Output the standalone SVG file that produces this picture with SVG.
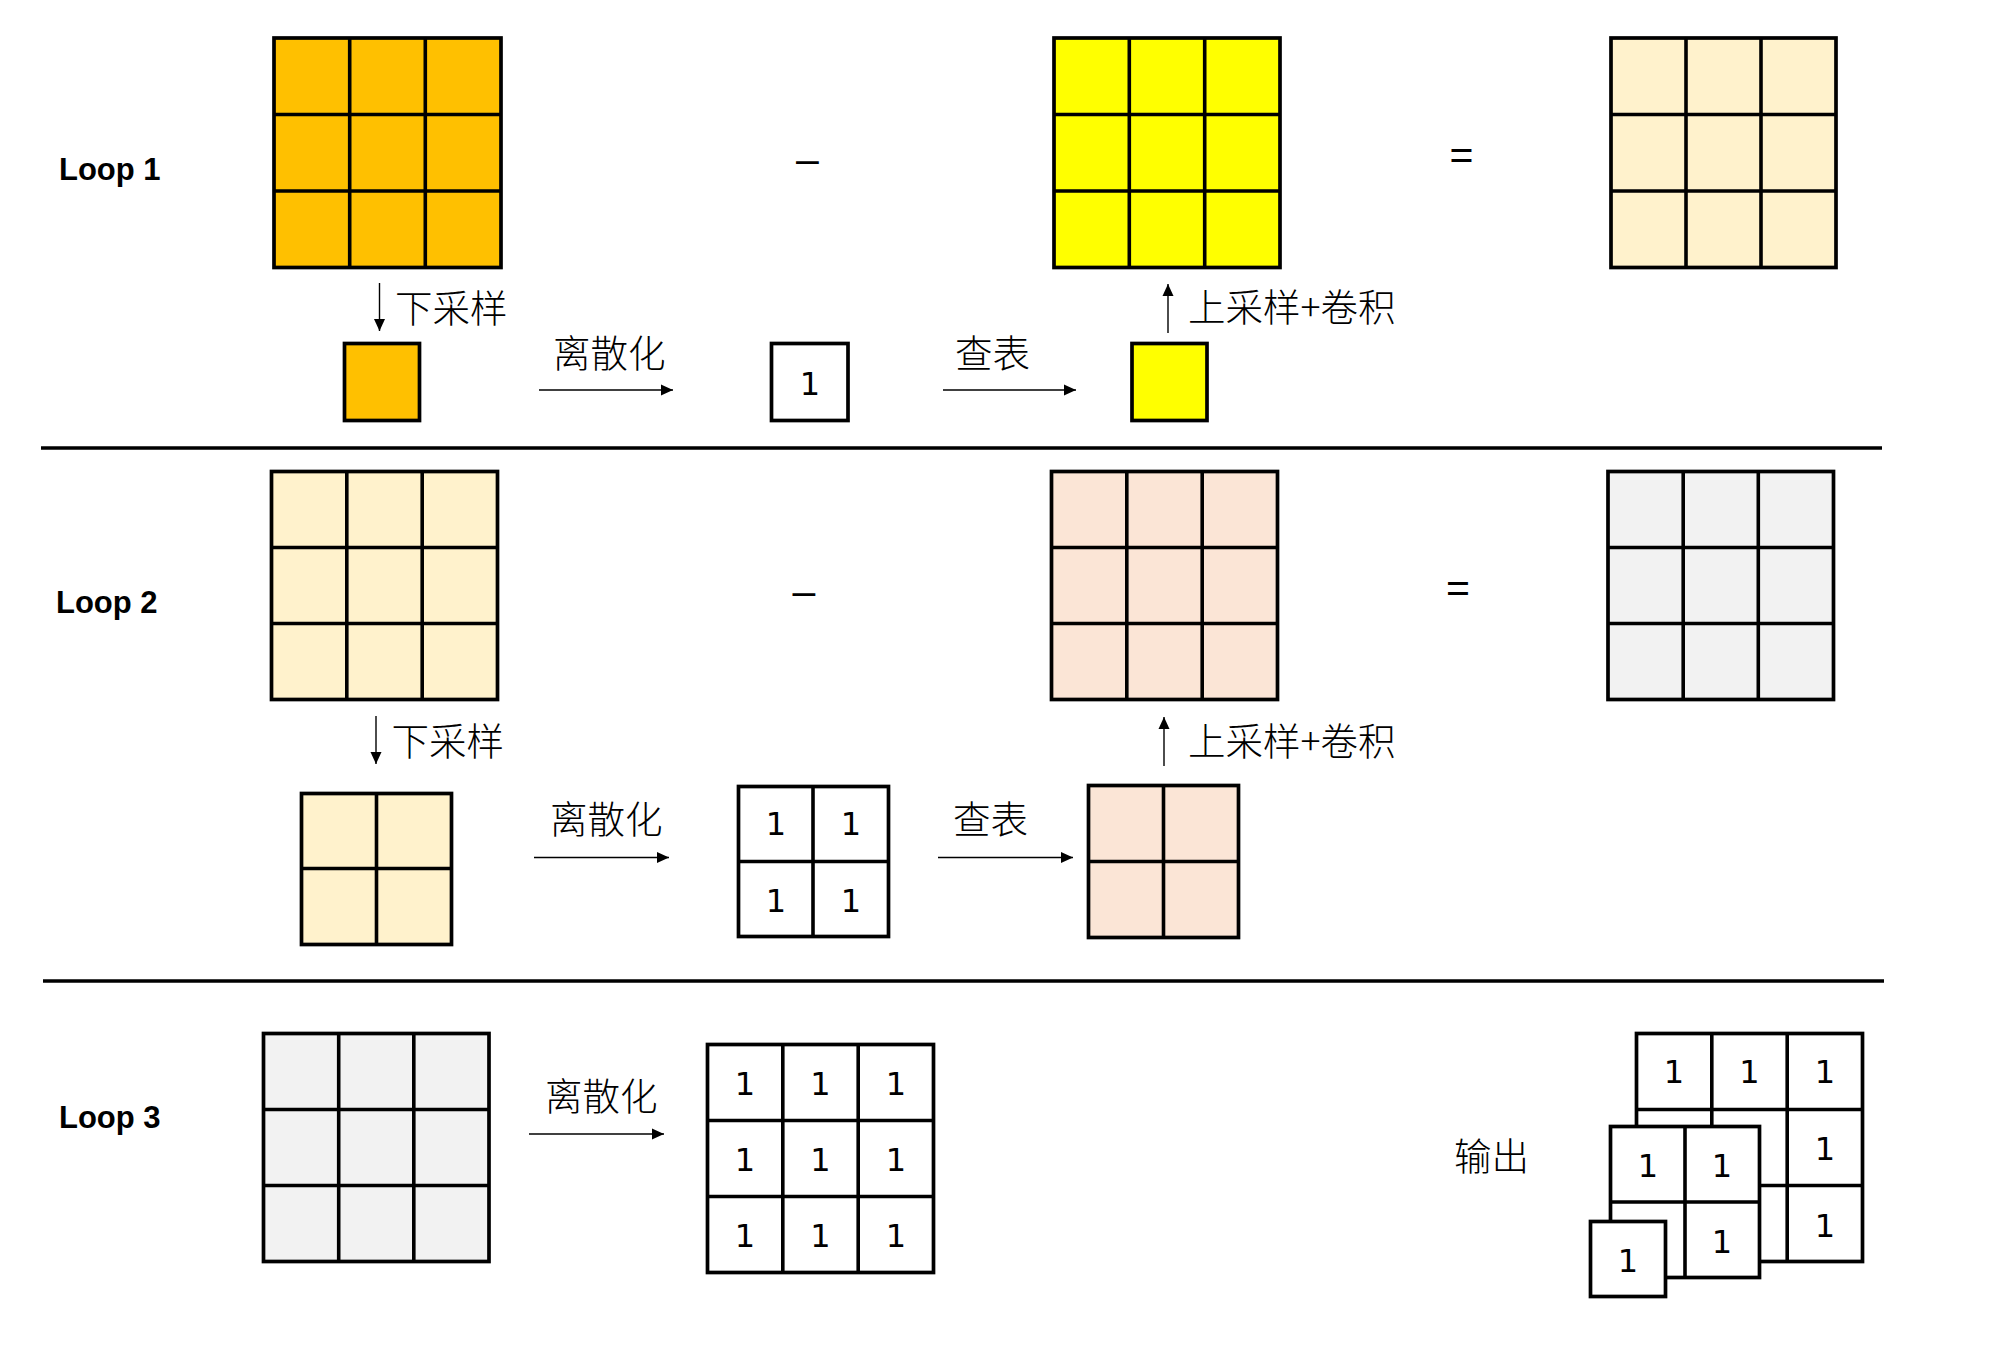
<svg xmlns="http://www.w3.org/2000/svg" width="2003" height="1353" viewBox="0 0 2003 1353">
<style>
.g{stroke:#000;stroke-width:3.6;fill:none}
.bx{stroke:#000;stroke-width:3.7}
.or{fill:#FFC000}.ye{fill:#FFFF00}.cr{fill:#FFF2CC}.pe{fill:#FBE5D6}.gr{fill:#F2F2F2}.wh{fill:#FFFFFF}
.loop{font-family:"Liberation Sans",Arial,sans-serif;font-weight:bold;font-size:31px;fill:#000}
.cn{font-family:"Noto Sans CJK SC","Liberation Sans",sans-serif;font-weight:300;font-size:37.5px;fill:#000}
.num{font-family:"DejaVu Sans",sans-serif;font-size:32px;fill:#000;text-anchor:middle}
.op{font-family:"Liberation Sans",Arial,sans-serif;font-size:41px;fill:#000;text-anchor:middle}
.ar{stroke:#000;stroke-width:1.4;fill:none;marker-end:url(#ah)}
.div{stroke:#000;stroke-width:3.6}
</style>
<defs>
<marker id="ah" markerUnits="userSpaceOnUse" markerWidth="12" markerHeight="12" refX="12" refY="6" orient="auto">
<path d="M0,0.5 L12,6 L0,11.5 Z" fill="#000"/>
</marker>
</defs>
<rect width="2003" height="1353" fill="#fff"/>

<g id="labels">
<text class="loop" x="59" y="180">Loop 1</text>
<text class="loop" x="56" y="613">Loop 2</text>
<text class="loop" x="59" y="1128">Loop 3</text>
<text class="op" x="807.5" y="173">–</text>
<text class="op" x="1461.5" y="168.5">=</text>
<text class="op" x="804" y="605">–</text>
<text class="op" x="1458" y="601.5">=</text>
</g>

<g id="dividers">
<line class="div" x1="41" y1="448" x2="1882" y2="448"/>
<line class="div" x1="43" y1="981" x2="1884" y2="981"/>
</g>

<!-- Loop 1 -->
<g id="l1-input">
<rect class="bx or" x="274" y="38" width="227" height="229.5"/>
<path class="g" d="M349.7 38V267.5M425.3 38V267.5M274 114.5H501M274 191H501"/>
</g>
<g id="l1-lut">
<rect class="bx ye" x="1054" y="38" width="226" height="229.5"/>
<path class="g" d="M1129.3 38V267.5M1204.7 38V267.5M1054 114.5H1280M1054 191H1280"/>
</g>
<g id="l1-result">
<rect class="bx cr" x="1611" y="38" width="225" height="229.5"/>
<path class="g" d="M1686 38V267.5M1761 38V267.5M1611 114.5H1836M1611 191H1836"/>
</g>
<g id="l1-down">
<rect class="bx or" x="344.5" y="343.5" width="75" height="77"/>
</g>
<g id="l1-disc">
<rect class="bx wh" x="771.5" y="343.5" width="76.5" height="77"/>
<text class="num" x="810" y="394.5">1</text>
</g>
<g id="l1-up">
<rect class="bx ye" x="1132" y="343.5" width="75" height="77"/>
</g>

<!-- Loop 2 -->
<g id="l2-input">
<rect class="bx cr" x="271.5" y="471.5" width="226" height="228"/>
<path class="g" d="M346.8 471.5V699.5M422.2 471.5V699.5M271.5 547.5H497.5M271.5 623.5H497.5"/>
</g>
<g id="l2-lut">
<rect class="bx pe" x="1051.5" y="471.5" width="226" height="228"/>
<path class="g" d="M1126.8 471.5V699.5M1202.2 471.5V699.5M1051.5 547.5H1277.5M1051.5 623.5H1277.5"/>
</g>
<g id="l2-result">
<rect class="bx gr" x="1608" y="471.5" width="225.5" height="228"/>
<path class="g" d="M1683.2 471.5V699.5M1758.3 471.5V699.5M1608 547.5H1833.5M1608 623.5H1833.5"/>
</g>
<g id="l2-down">
<rect class="bx cr" x="301.5" y="793.5" width="150" height="151"/>
<path class="g" d="M376.5 793.5V944.5M301.5 868.5H451.5"/>
</g>
<g id="l2-disc">
<rect class="bx wh" x="738.5" y="786.5" width="150" height="150"/>
<path class="g" d="M813 786.5V936.5M738.5 861.5H888.5"/>
<text class="num" x="776" y="835">1</text>
<text class="num" x="851" y="835">1</text>
<text class="num" x="776" y="912">1</text>
<text class="num" x="851" y="912">1</text>
</g>
<g id="l2-up">
<rect class="bx pe" x="1088.5" y="785.5" width="150" height="152"/>
<path class="g" d="M1163.5 785.5V937.5M1088.5 861.5H1238.5"/>
</g>

<!-- Loop 3 -->
<g id="l3-input">
<rect class="bx gr" x="263.5" y="1033.5" width="225.5" height="228"/>
<path class="g" d="M338.7 1033.5V1261.5M413.8 1033.5V1261.5M263.5 1109.5H489M263.5 1185.5H489"/>
</g>
<g id="l3-disc">
<rect class="bx wh" x="707.5" y="1044.5" width="226" height="228"/>
<path class="g" d="M782.8 1044.5V1272.5M858.2 1044.5V1272.5M707.5 1120.5H933.5M707.5 1196.5H933.5"/>
<text class="num" x="745" y="1095">1</text>
<text class="num" x="820.5" y="1095">1</text>
<text class="num" x="896" y="1095">1</text>
<text class="num" x="745" y="1171">1</text>
<text class="num" x="820.5" y="1171">1</text>
<text class="num" x="896" y="1171">1</text>
<text class="num" x="745" y="1247">1</text>
<text class="num" x="820.5" y="1247">1</text>
<text class="num" x="896" y="1247">1</text>
</g>
<g id="output">
<g id="out-3x3">
<rect class="bx wh" x="1636.5" y="1033.5" width="226" height="228"/>
<path class="g" d="M1711.8 1033.5V1261.5M1787.2 1033.5V1261.5M1636.5 1109.5H1862.5M1636.5 1185.5H1862.5"/>
<text class="num" x="1674" y="1083">1</text>
<text class="num" x="1749.5" y="1083">1</text>
<text class="num" x="1825" y="1083">1</text>
<text class="num" x="1825" y="1160">1</text>
<text class="num" x="1825" y="1237">1</text>
</g>
<g id="out-2x2">
<rect class="bx wh" x="1610.5" y="1126.5" width="149" height="151"/>
<path class="g" d="M1685 1126.5V1277.5M1610.5 1202H1759.5"/>
<text class="num" x="1648" y="1177">1</text>
<text class="num" x="1722" y="1177">1</text>
<text class="num" x="1722" y="1253">1</text>
</g>
<g id="out-1x1">
<rect class="bx wh" x="1590.5" y="1221.5" width="75" height="75"/>
<text class="num" x="1628" y="1272">1</text>
</g>
<text class="cn" x="1454" y="1170">输出</text>
</g>

<g id="connectors">
<line class="ar" x1="379.5" y1="283" x2="379.5" y2="331"/>
<text class="cn" x="395" y="322">下采样</text>
<line class="ar" x1="539" y1="390" x2="673" y2="390"/>
<text class="cn" x="553" y="367">离散化</text>
<line class="ar" x1="943" y1="390" x2="1076" y2="390"/>
<text class="cn" x="955" y="367">查表</text>
<line class="ar" x1="1168" y1="333" x2="1168" y2="284"/>
<text class="cn" x="1188" y="321">上采样+卷积</text>

<line class="ar" x1="376" y1="716" x2="376" y2="764"/>
<text class="cn" x="391.5" y="755">下采样</text>
<line class="ar" x1="534" y1="857.5" x2="669" y2="857.5"/>
<text class="cn" x="550" y="833">离散化</text>
<line class="ar" x1="938" y1="857.5" x2="1073" y2="857.5"/>
<text class="cn" x="953" y="833">查表</text>
<line class="ar" x1="1164" y1="766" x2="1164" y2="717"/>
<text class="cn" x="1188" y="755">上采样+卷积</text>

<line class="ar" x1="529" y1="1134" x2="664" y2="1134"/>
<text class="cn" x="545" y="1110">离散化</text>
</g>
</svg>
